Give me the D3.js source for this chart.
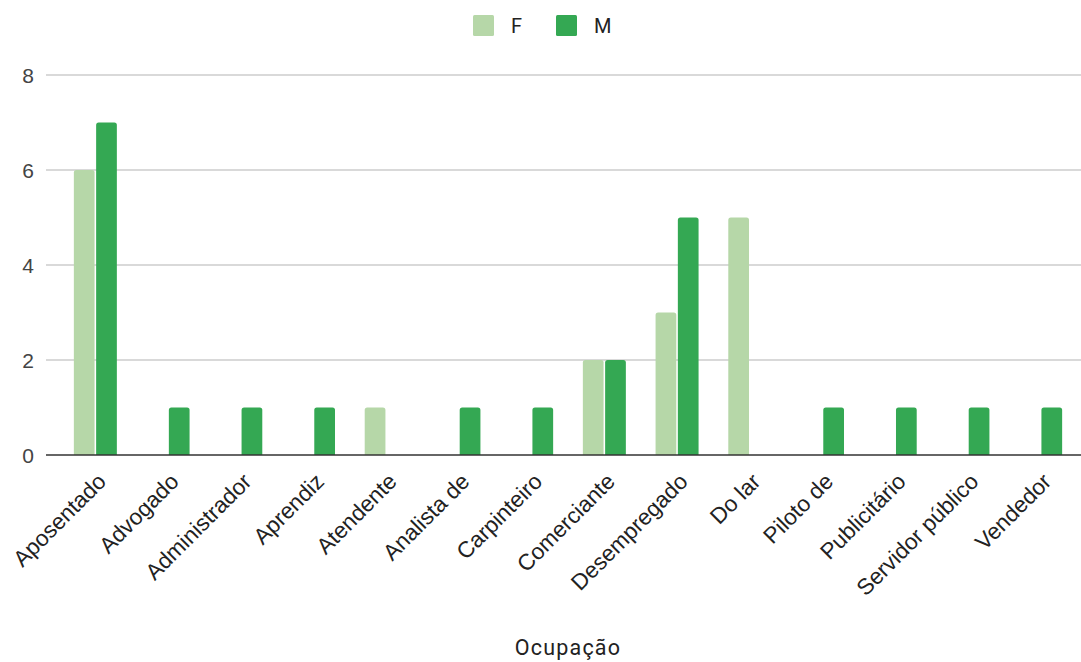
<!DOCTYPE html>
<html>
<head>
<meta charset="utf-8">
<script src="https://cdn.jsdelivr.net/npm/d3@7"></script>
<style>
  html, body { margin: 0; padding: 0; background: #fff; }
  svg { display: block; }
</style>
</head>
<body>
<svg id="chart" width="1081" height="662"></svg>
<script>
// Occupations on the x axis
const categories = [
  "Aposentado", "Advogado", "Administrador", "Aprendiz", "Atendente",
  "Analista de", "Carpinteiro", "Comerciante", "Desempregado", "Do lar",
  "Piloto de", "Publicitário", "Servidor público", "Vendedor"
];
// Counts per occupation, by sex
const valuesF = [6, 0, 0, 0, 1, 0, 0, 2, 3, 5, 0, 0, 0, 0];
const valuesM = [7, 1, 1, 1, 0, 1, 1, 2, 5, 0, 1, 1, 1, 1];
const seriesNames = ["F", "M"];
const seriesColors = ["#b6d7a8", "#34a853"];
const yTicks = [0, 2, 4, 6, 8];
const xTitle = "Ocupação";

const svg = d3.select("#chart");
const gridLeft = 46, gridRight = 1081;

const x = d3.scaleBand().domain(categories).range([59, 1077]).paddingInner(0);
const groupW = 43;
const xs = d3.scaleBand().domain(seriesNames).range([0, groupW]).paddingInner(3 / 43);
const y = d3.scaleLinear().domain([0, 8]).range([455, 75]);

// Horizontal gridlines and value labels
const yAxis = svg.append("g");
yAxis.selectAll("line.grid")
  .data(yTicks.filter(d => d !== 0))
  .join("line")
  .attr("x1", gridLeft).attr("x2", gridRight)
  .attr("y1", d => y(d)).attr("y2", d => y(d))
  .attr("stroke", "#cccccc").attr("stroke-width", 1.5);
yAxis.selectAll("text")
  .data(yTicks)
  .join("text")
  .attr("x", 34).attr("y", d => y(d))
  .attr("dy", "0.36em")
  .attr("text-anchor", "end")
  .attr("font-family", "'Liberation Sans', Arial, sans-serif")
  .attr("font-size", 21)
  .attr("fill", "#444")
  .text(d => d);

// Grouped bars with lightly rounded tops
const rows = categories.map((c, i) => ({ cat: c, vals: [valuesF[i], valuesM[i]] }));
function barPath(x0, w, v) {
  const top = y(v), base = y(0), r = Math.min(2.5, (base - top) / 2);
  return `M${x0},${base}V${top + r}Q${x0},${top} ${x0 + r},${top}H${x0 + w - r}` +
         `Q${x0 + w},${top} ${x0 + w},${top + r}V${base}Z`;
}
const groups = svg.append("g").selectAll("g")
  .data(rows)
  .join("g")
  .attr("transform", d => `translate(${x(d.cat) + x.bandwidth() / 2 - groupW / 2},0)`);
groups.selectAll("path")
  .data(d => d.vals.map((v, j) => ({ v, s: seriesNames[j], c: seriesColors[j] })).filter(e => e.v > 0))
  .join("path")
  .attr("d", e => barPath(xs(e.s), xs.bandwidth(), e.v))
  .attr("fill", e => e.c);

// Baseline
svg.append("line")
  .attr("x1", gridLeft).attr("x2", gridRight)
  .attr("y1", y(0)).attr("y2", y(0))
  .attr("stroke", "#333").attr("stroke-width", 1.5);

// Rotated category labels
svg.append("g").selectAll("text")
  .data(categories)
  .join("text")
  .attr("transform", d => `translate(${x(d) + x.bandwidth() / 2 + 12},483) rotate(-45)`)
  .attr("text-anchor", "end")
  .attr("font-family", "'Liberation Sans', Arial, sans-serif")
  .attr("font-size", 22.5)
  .attr("fill", "#222")
  .text(d => d);

// Axis title
svg.append("text")
  .attr("x", 568).attr("y", 655)
  .attr("text-anchor", "middle")
  .attr("font-family", "Roboto, sans-serif")
  .attr("font-size", 21.5)
  .attr("letter-spacing", 1.2)
  .attr("fill", "#222")
  .text(xTitle);

// Legend
const legendX = [473, 556];
const legend = svg.append("g").selectAll("g")
  .data(seriesNames)
  .join("g")
  .attr("transform", (d, i) => `translate(${legendX[i]},15)`);
legend.append("rect")
  .attr("width", 21).attr("height", 21).attr("rx", 1.5)
  .attr("fill", (d, i) => seriesColors[i]);
legend.append("text")
  .attr("x", 38).attr("y", 11).attr("dy", "0.36em")
  .attr("font-family", "Roboto, sans-serif")
  .attr("font-size", 20)
  .attr("fill", "#222")
  .text(d => d);
</script>
</body>
</html>
